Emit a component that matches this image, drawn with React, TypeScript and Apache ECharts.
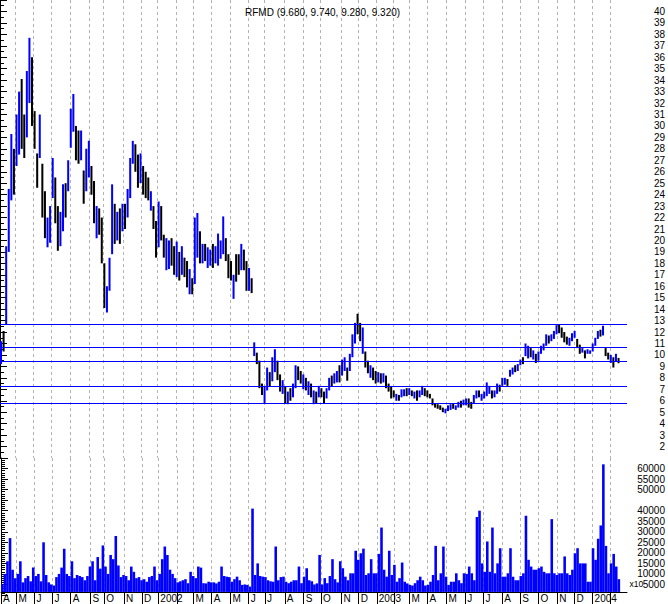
import React, { useEffect, useRef } from 'react';
import * as echarts from 'echarts';

const TITLE = 'RFMD (9.680, 9.740, 9.280, 9.320)';
const VOLUME_UNIT = 'x10';
const SAMPLE_STEP = 3; // trading days covered by each bar

// trading-day index at which each month starts (Apr 2001 .. Feb 2004)
const monthStartDays = [0, 18, 39, 60, 81, 104, 120, 143, 164, 183, 205, 224, 245, 267, 288, 307, 330, 352, 372, 396, 416, 437, 457, 475, 496, 518, 540, 561, 583, 604, 625, 647, 667, 688, 709];
const monthLabels = ['A', 'M', 'J', 'J', 'A', 'S', 'O', 'N', 'D', '2002', '', 'M', 'A', 'M', 'J', 'J', 'A', 'S', 'O', 'N', 'D', '2003', '', 'M', 'A', 'M', 'J', 'J', 'A', 'S', 'O', 'N', 'D', '2004', ''];

const highs = [
  11.2, 12.1, 19.5, 24.5, 29.3, 28.0, 31.0, 33.0, 34.1, 31.0,
  34.8, 37.7, 36.0, 31.3, 27.6, 31.0, 26.7, 24.3, 22.0, 23.0,
  27.2, 25.5, 23.0, 22.5, 24.9, 25.0, 27.0, 31.5, 32.8, 30.0,
  29.6, 29.6, 26.1, 28.0, 28.7, 26.5, 25.2, 23.0, 22.8, 22.0,
  18.0, 16.0, 18.5, 24.9, 23.2, 22.5, 22.8, 23.2, 23.2, 24.5,
  27.2, 28.7, 28.4, 27.5, 27.6, 26.5, 26.0, 25.5, 24.3, 23.0,
  21.7, 23.4, 23.0, 20.5, 20.2, 20.0, 20.2, 19.5, 19.9, 19.0,
  19.5, 18.5, 18.2, 17.5, 16.7, 22.0, 22.4, 20.8, 19.7, 19.7,
  19.4, 19.2, 19.7, 19.5, 20.6, 20.0, 22.1, 20.2, 18.8, 18.2,
  17.0, 18.8, 18.8, 19.7, 19.2, 18.2, 17.6, 16.7, 11.1, 10.2,
  9.5, 7.5, 7.3, 8.9, 8.5, 9.8, 10.5, 9.5, 8.3, 7.8,
  7.2, 6.8, 7.1, 7.5, 9.1, 9.0, 8.6, 8.3, 8.0, 7.7,
  7.5, 6.9, 6.8, 7.3, 7.1, 6.8, 7.1, 8.0, 8.2, 8.4,
  8.6, 9.1, 9.6, 9.8, 8.9, 10.1, 11.8, 12.8, 13.6, 12.8,
  12.4, 10.3, 9.5, 9.1, 8.9, 8.6, 8.5, 8.4, 8.4, 8.2,
  7.5, 7.2, 6.9, 6.6, 6.5, 7.0, 7.0, 7.1, 7.1, 6.9,
  6.8, 6.9, 6.9, 7.3, 7.1, 6.9, 6.6, 6.2, 5.8, 5.7,
  5.6, 5.4, 5.3, 5.6, 5.7, 5.8, 5.6, 5.9, 6.0, 6.1,
  6.2, 6.2, 5.9, 6.5, 6.9, 6.9, 6.6, 6.8, 7.6, 7.3,
  6.9, 6.9, 7.5, 7.4, 8.0, 8.0, 7.9, 8.7, 8.9, 9.1,
  9.2, 9.6, 9.8, 11.0, 10.8, 10.6, 10.4, 10.1, 10.3, 10.8,
  11.0, 11.8, 11.7, 11.8, 12.1, 12.6, 12.7, 12.4, 12.0, 11.6,
  11.5, 11.9, 12.1, 11.4, 10.9, 10.6, 10.4, 10.5, 10.4, 11.0,
  11.5, 12.1, 12.2, 12.55, 10.6, 10.2, 10.0, 9.8, 10.1, 9.74,
];
const lows = [
  9.2, 10.3, 12.7, 19.0, 23.5, 24.0, 26.5, 27.5, 28.0, 27.2,
  29.0, 32.0, 30.0, 28.0, 24.6, 27.2, 22.0, 20.2, 19.4, 19.8,
  23.7, 21.5, 19.1, 19.5, 20.8, 22.0, 24.3, 28.1, 29.5, 27.0,
  26.7, 27.0, 23.2, 24.3, 25.5, 24.0, 21.5, 20.2, 20.5, 18.0,
  14.1, 13.7, 15.6, 18.8, 19.7, 20.0, 19.7, 20.8, 21.0, 22.0,
  23.7, 26.7, 26.0, 24.6, 25.0, 24.0, 23.7, 23.5, 22.6, 21.0,
  18.5, 19.4, 20.0, 18.5, 17.4, 17.5, 17.8, 17.0, 16.8, 16.5,
  17.0, 16.8, 15.9, 15.3, 15.3, 16.2, 18.5, 18.0, 18.0, 18.2,
  17.6, 17.8, 17.6, 18.0, 17.8, 18.4, 18.8, 18.2, 16.7, 16.5,
  14.9, 16.4, 17.0, 17.4, 17.4, 15.6, 15.6, 15.4, 9.9, 9.2,
  7.1, 6.5, 5.8, 6.9, 7.2, 7.7, 8.5, 7.8, 6.8, 6.6,
  5.8, 5.7, 6.0, 6.3, 7.1, 7.8, 7.5, 7.0, 6.9, 6.5,
  6.3, 5.7, 5.8, 6.3, 6.3, 5.8, 6.2, 6.9, 7.2, 7.5,
  7.6, 7.6, 8.2, 8.6, 7.75, 8.6, 9.8, 11.0, 11.8, 11.2,
  10.1, 8.9, 8.4, 8.0, 7.8, 7.5, 7.6, 7.5, 7.6, 7.1,
  6.8, 6.2, 6.3, 6.0, 6.0, 6.3, 6.4, 6.4, 6.5, 6.4,
  6.2, 6.0, 6.3, 6.5, 6.4, 6.3, 6.2, 5.6, 5.4, 5.3,
  5.2, 5.0, 4.9, 5.1, 5.2, 5.3, 5.2, 5.4, 5.4, 5.6,
  5.6, 5.4, 5.3, 5.8, 6.2, 6.3, 6.0, 6.2, 6.4, 6.6,
  6.2, 6.3, 6.6, 6.8, 7.3, 7.4, 7.3, 8.1, 8.3, 8.5,
  8.6, 9.1, 9.2, 9.9, 9.7, 9.8, 9.6, 9.3, 9.5, 10.1,
  10.4, 10.8, 11.0, 11.2, 11.4, 11.8, 11.9, 11.5, 11.1, 10.9,
  10.8, 11.2, 11.5, 10.6, 10.1, 10.2, 9.7, 10.1, 10.1, 10.3,
  10.8, 11.4, 11.6, 11.7, 9.9, 9.6, 9.3, 8.9, 9.4, 9.28,
];
// 1 = closed up (blue), 0 = closed down (black)
const upBars = [
  1, 0, 1, 1, 1, 0, 1, 1, 0, 0,
  1, 1, 0, 0, 0, 1, 0, 0, 1, 1,
  1, 0, 0, 1, 1, 0, 1, 1, 1, 0,
  0, 1, 0, 1, 1, 0, 0, 1, 0, 0,
  0, 1, 1, 1, 0, 1, 0, 1, 0, 1,
  1, 1, 0, 0, 1, 0, 0, 0, 1, 0,
  0, 1, 0, 0, 1, 1, 0, 0, 1, 0,
  1, 0, 0, 1, 0, 1, 1, 0, 1, 0,
  1, 1, 0, 1, 1, 1, 1, 0, 0, 0,
  1, 0, 0, 1, 0, 0, 1, 0, 1, 0,
  0, 0, 1, 1, 0, 1, 1, 0, 0, 1,
  0, 1, 0, 1, 1, 0, 0, 1, 0, 1,
  0, 1, 0, 1, 0, 0, 1, 1, 0, 1,
  1, 0, 1, 1, 0, 1, 1, 1, 0, 0,
  1, 0, 0, 1, 0, 0, 1, 0, 1, 0,
  0, 0, 0, 1, 0, 1, 1, 0, 1, 0,
  1, 0, 1, 1, 0, 0, 0, 0, 0, 0,
  0, 0, 1, 1, 1, 0, 1, 1, 0, 1,
  1, 0, 0, 1, 1, 0, 1, 1, 1, 1,
  0, 1, 1, 0, 1, 1, 0, 1, 1, 0,
  1, 1, 0, 1, 1, 0, 1, 0, 1, 1,
  1, 1, 0, 1, 1, 1, 0, 0, 0, 0,
  1, 1, 1, 0, 0, 1, 0, 1, 1, 1,
  1, 1, 0, 1, 0, 0, 1, 0, 1, 0,
];
// volume, thousands of shares per bar
const volumesK = [
  5, 10, 16, 27, 12, 8, 10, 16, 6, 8,
  9, 6.5, 13, 9, 10, 6.5, 25, 9.5, 6, 5,
  4.5, 8.5, 10, 13, 22, 10, 9, 16, 8, 9.5,
  9, 8.5, 7, 9, 13.5, 16, 7, 18, 12.5, 23.5,
  13.5, 10, 19, 17, 28, 14, 8.5, 9.5, 9, 7,
  13.5, 11, 8, 8.5, 7, 7.5, 6.3, 8.5, 9, 13.5,
  7, 10, 17, 23, 19, 12, 10, 8, 6, 6.5,
  7, 7.5, 5.6, 11, 9, 8, 13.5, 13, 5.6, 5.5,
  6.3, 6, 6, 5.5, 6.3, 13.5, 9, 8.7, 8.5, 6.3,
  7.5, 8.7, 7, 4.8, 5, 4.8, 4, 41, 9.5, 15,
  9, 8.7, 8.5, 7, 6.5, 6.3, 23, 7, 8.5, 8.7,
  6.3, 5.6, 6.3, 7, 7, 13.5, 5.6, 8.7, 12.7, 7,
  6.5, 5, 5.5, 19, 5, 8, 5.6, 9, 17, 7.5,
  6, 16, 12.7, 8.7, 7, 10.3, 10.3, 21, 16.7, 19.8,
  22, 9.5, 10.3, 17, 10.3, 10.3, 19.5, 32, 12, 8.7,
  21, 9.5, 14.3, 6.3, 8, 15.4, 6.3, 5.5, 4.8, 4.5,
  5.6, 7, 8.7, 7, 4.5, 4.8, 6.3, 9.5, 23.3, 7,
  10.3, 23, 8.7, 4.8, 6.3, 6.3, 10.3, 7, 5.6, 10.3,
  10, 13.5, 10.3, 7, 37, 40, 15, 11, 25.4, 11,
  32, 10.3, 15, 22.2, 8.7, 8.7, 10.3, 22.2, 8.7, 7,
  7, 9, 10.3, 37.6, 16.7, 13.5, 12, 12, 12.7, 13.5,
  11, 10.3, 10.3, 36, 10.3, 9.5, 10.3, 10.3, 18.3, 10.3,
  9.5, 12, 19.8, 22.2, 15, 15, 15, 6.3, 6.3, 22.2,
  16.7, 26.7, 33, 62, 23.3, 10.3, 15, 19.5, 13.5, 7.5,
];
const levelLines = [12.7, 10.69, 9.47, 7.28, 5.8];

const BLUE = '#0000ff';
const FONT = 'Arial, "Liberation Sans", sans-serif';

export default function App() {
  const ref = useRef<HTMLDivElement>(null);
  useEffect(() => {
    if (!ref.current) return;
    const chart = echarts.init(ref.current, undefined, { renderer: 'svg' });
    const priceData = highs.map((h, i) => [i * SAMPLE_STEP, lows[i], h, upBars[i]]);
    const volData = volumesK.map((v, i) => [i * SAMPLE_STEP, v * 1000]);
    const gridLine = { show: true, lineStyle: { color: '#b4b4b4', width: 1, type: [3, 3] as any } };
    const labelFor = (val: number) => {
      const idx = monthStartDays.indexOf(val);
      return idx >= 0 ? monthLabels[idx] : '';
    };
    chart.setOption({
      animation: false,
      backgroundColor: '#ffffff',
      title: {
        text: TITLE,
        left: 240,
        top: 2,
        textStyle: { fontSize: 10, fontWeight: 'normal', color: '#000', fontFamily: FONT },
      },
      graphic: [
        {
          type: 'text', left: 629.5, top: 579, z: 10,
          style: { text: VOLUME_UNIT, fontSize: 8.5, fill: '#000', fontFamily: FONT },
        },
      ],
      grid: [
        { left: 0, width: 628, top: 0, height: 458 },
        { left: 0, width: 628, top: 458, height: 137 },
      ],
      xAxis: [
        {
          type: 'value', gridIndex: 0, min: 0, max: 728,
          axisLine: { show: false },
          axisTick: { show: false, customValues: monthStartDays },
          axisLabel: { show: false, customValues: monthStartDays },
          splitLine: gridLine,
        },
        {
          type: 'value', gridIndex: 1, min: 0, max: 728, offset: -3,
          axisLine: { show: true, lineStyle: { color: '#000', width: 1 } },
          axisTick: { show: true, length: 12, customValues: monthStartDays, lineStyle: { color: '#000' } },
          axisLabel: {
            show: true, customValues: monthStartDays, formatter: labelFor,
            align: 'left', padding: [0, 0, 0, 2], margin: 1,
            fontSize: 10, color: '#000', fontFamily: FONT,
          },
          splitLine: gridLine,
        },
      ],
      yAxis: [
        {
          type: 'value', gridIndex: 0, position: 'right', min: 1, max: 41, interval: 1,
          axisLine: { show: true, lineStyle: { color: '#000' } },
          axisTick: { show: true, length: 7, lineStyle: { color: '#000' } },
          minorTick: { show: true, splitNumber: 2, length: 4, lineStyle: { color: '#000' } },
          splitLine: { show: false },
          axisLabel: {
            align: 'right', margin: 38, fontSize: 10, color: '#000', fontFamily: FONT,
            formatter: (v: number) => (v <= 1 || v >= 41 ? '' : String(v)),
          },
        },
        {
          type: 'value', gridIndex: 1, position: 'right', min: 0, max: 65000, interval: 5000,
          axisLine: { show: true, lineStyle: { color: '#000' } },
          axisTick: { show: true, length: 7, lineStyle: { color: '#000' } },
          minorTick: { show: true, splitNumber: 5, length: 4, lineStyle: { color: '#000' } },
          splitLine: { show: false },
          axisLabel: {
            align: 'right', margin: 38, fontSize: 10, color: '#000', fontFamily: FONT,
            formatter: (v: number) => (v === 0 || v === 45000 || v >= 65000 ? '' : String(v)),
          },
        },
      ],
      series: [
        {
          type: 'custom', xAxisIndex: 0, yAxisIndex: 0, data: priceData,
          encode: { x: 0, y: [1, 2] },
          renderItem: (_p: any, api: any) => {
            const day = api.value(0);
            const lo = api.coord([day, api.value(1)]);
            const hi = api.coord([day, api.value(2)]);
            const w = api.size([SAMPLE_STEP, 0])[0] * 0.78;
            return {
              type: 'rect',
              shape: { x: hi[0], y: hi[1], width: w, height: Math.max(1, lo[1] - hi[1]) },
              style: { fill: api.value(3) === 1 ? BLUE : '#000000' },
            };
          },
          markLine: {
            silent: true, symbol: 'none', label: { show: false },
            lineStyle: { color: BLUE, width: 1, type: 'solid' },
            data: levelLines.map((v) => ({ yAxis: v })),
          },
          z: 3,
        },
        {
          type: 'custom', xAxisIndex: 1, yAxisIndex: 1, data: volData,
          encode: { x: 0, y: 1 },
          renderItem: (_p: any, api: any) => {
            const day = api.value(0);
            const top = api.coord([day, api.value(1)]);
            const base = api.coord([day, 1450]);
            const w = api.size([SAMPLE_STEP, 0])[0];
            return {
              type: 'rect',
              shape: { x: top[0], y: top[1], width: w, height: Math.max(1, base[1] - top[1]) },
              style: { fill: BLUE },
            };
          },
        },
      ],
    });
    return () => chart.dispose();
  }, []);
  return <div ref={ref} style={{ position: 'absolute', left: 0, top: 0, width: 668, height: 604 }} />;
}
